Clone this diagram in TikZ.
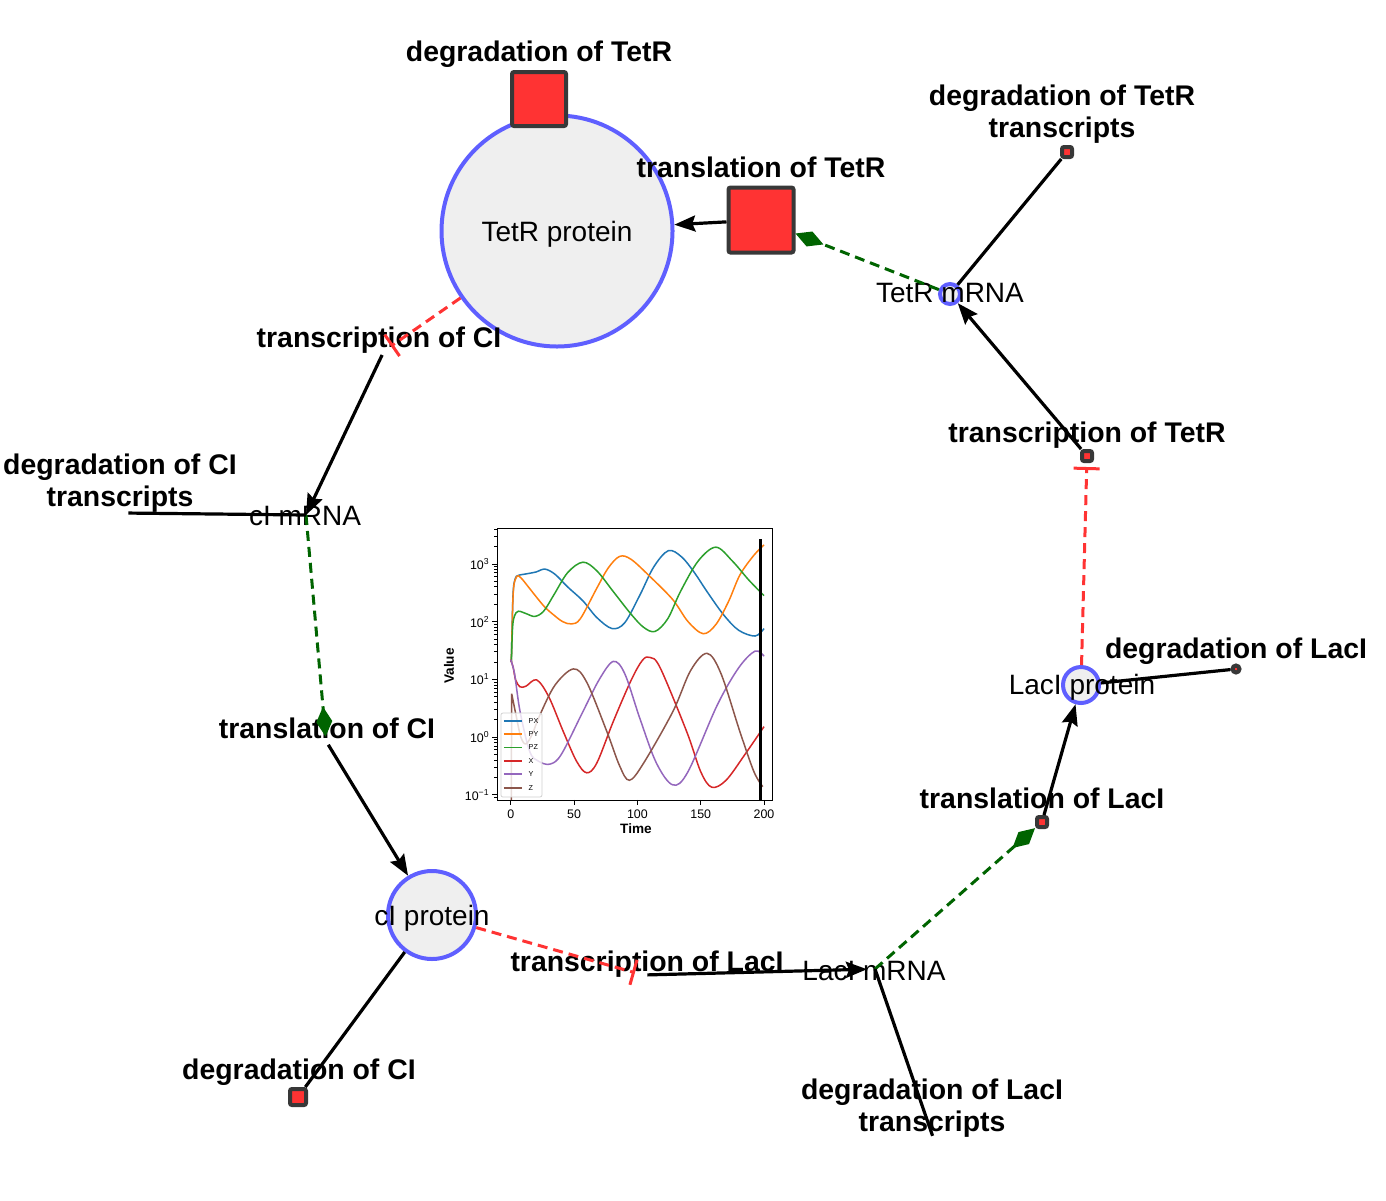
\documentclass[tikz,border=0pt]{standalone}
\usepackage{fontspec}
\setmainfont{Liberation Sans}
\usepackage{tikz}
\usetikzlibrary{arrows.meta}
\definecolor{spBlue}{HTML}{5F5FFF}
\definecolor{spFill}{HTML}{EFEFEF}
\definecolor{rxRed}{HTML}{FF3333}
\definecolor{rxGray}{HTML}{383838}
\definecolor{ccGreen}{HTML}{006400}
\definecolor{pltBlue}{HTML}{1F77B4}
\definecolor{pltOrange}{HTML}{FF7F0E}
\definecolor{pltGreen}{HTML}{2CA02C}
\definecolor{pltRed}{HTML}{D62728}
\definecolor{pltPurple}{HTML}{9467BD}
\definecolor{pltBrown}{HTML}{8C564B}

\begin{document}
\begin{tikzpicture}[x=0.5pt, y=-0.5pt,
  species/.style={circle, draw=spBlue, fill=spFill, line width=2pt, inner sep=0pt},
  rxbox/.style={rectangle, draw=rxGray, fill=rxRed, line width=2pt, rounded corners=1pt, inner sep=0pt},
  rxdot/.style={circle, draw=rxGray, fill=rxRed, line width=2pt, inner sep=0pt, minimum size=3.5pt},
  rxhide/.style={circle, inner sep=0pt, minimum size=4pt},
  rxlabel/.style={font=\fontsize{14.2}{16}\selectfont\bfseries, align=center, anchor=base, inner sep=0pt},
  splabel/.style={font=\fontsize{14}{16}\selectfont, anchor=base, inner sep=0pt},
  act/.style={-{Stealth[length=10.5pt, width=8pt, inset=1.5pt]}, line width=1.6pt},
  deg/.style={line width=1.6pt},
  cat/.style={-{Diamond[length=15pt, width=8pt]}, ccGreen, line width=1.5pt, dash pattern=on 5pt off 3pt},
  inh/.style={-{Bar[width=13pt, line width=1.5pt]}, rxRed, line width=1.5pt, dash pattern=on 5pt off 3pt, shorten >=2pt}]
\useasboundingbox (0,0) rectangle (1386,1200);

% species
\node[species, minimum size=115.5pt] (tetRp) at (557,231) {};
\node[species, minimum size=10pt] (tetRm) at (950,294) {};
\node[species, minimum size=18pt] (lacIp) at (1081,685) {};
\coordinate (lacIm) at (875,969);
\node[species, minimum size=44pt] (cIp) at (432,915) {};
\coordinate (cIm) at (306,515);

% reactions
\node[rxbox, minimum size=27pt] (degTetR) at (539,99) {};
\node[rxbox, minimum size=32.5pt] (trlTetR) at (761,220) {};
\node[rxbox, minimum size=5pt] (degTetRm) at (1067,152) {};
\node[rxbox, minimum size=5pt] (trsTetR) at (1087,456) {};
\node[rxdot] (degLacI) at (1236,669) {};
\node[rxbox, minimum size=5pt] (trlLacI) at (1042,822) {};
\node[rxhide] (degLacIm) at (934,1140) {};
\node[rxhide] (trsLacI) at (643,975) {};
\node[rxbox, minimum size=8pt] (degCI) at (298,1097) {};
\node[rxhide] (trlCI) at (326,741) {};
\node[rxhide] (degCIm) at (124,513) {};
\node[rxhide] (trsCI) at (384,351) {};

% names
\node[splabel] (tetRp-l) at (557,241) {TetR protein};
\node[splabel] (tetRm-l) at (950,302) {TetR mRNA};
\node[splabel] (lacIp-l) at (1082,694) {LacI protein};
\node[splabel] (lacIm-l) at (874,980) {LacI mRNA};
\node[splabel] (cIp-l) at (432,925) {cI protein};
\node[splabel] (cIm-l) at (305,525) {cI mRNA};

\node[rxlabel] (degTetR-l) at (539,61) {degradation of TetR};
\node[rxlabel] (trlTetR-l) at (761,177) {translation of TetR};
\node[rxlabel] (degTetRm-l) at (1062,137) {degradation of TetR\\transcripts};
\node[rxlabel] (trsTetR-l) at (1087,442) {transcription of TetR};
\node[rxlabel] (degLacI-l) at (1236,658) {degradation of LacI};
\node[rxlabel] (trlLacI-l) at (1042,808) {translation of LacI};
\node[rxlabel] (degLacIm-l) at (932,1131) {degradation of LacI\\transcripts};
\node[rxlabel] (trsLacI-l) at (647,971) {transcription of LacI};
\node[rxlabel] (degCI-l) at (299,1079) {degradation of CI};
\node[rxlabel] (trlCI-l) at (327,738) {translation of CI};
\node[rxlabel] (degCIm-l) at (120,506) {degradation of CI\\transcripts};
\node[rxlabel] (trsCI-l) at (379,347) {transcription of CI};

% edges
\draw[act] (trlTetR) -- (tetRp);
\draw[cat] (tetRm) -- (trlTetR);
\draw[deg] (tetRm) -- (degTetRm);
\draw[act] (trsTetR) -- (tetRm);
\draw[inh] (lacIp) -- (trsTetR);
\draw[deg] (lacIp) -- (degLacI);
\draw[act] (trlLacI) -- (lacIp);
\draw[cat] (lacIm) -- (trlLacI);
\draw[deg] (lacIm) -- (degLacIm);
\draw[act, shorten >=4pt] (trsLacI) -- (lacIm);
\draw[inh] (cIp) -- (trsLacI);
\draw[deg] (cIp) -- (degCI);
\draw[act] (trlCI) -- (cIp);
\draw[cat] (cIm) -- (trlCI);
\draw[deg] (cIm) -- (degCIm);
\draw[act] (trsCI) -- (cIm);
\draw[inh] (tetRp) -- (trsCI);

% time course inset
\begin{scope}[shift={(255.35pt,-368.5pt)}, x=0.6333pt, y=28.85pt,
  axis/.style={line width=0.4pt},
  curve/.style={line width=0.75pt},
  ticklbl/.style={font=\fontsize{6.2}{7}\selectfont},
  axlbl/.style={font=\fontsize{6.8}{8}\selectfont\bfseries},
  legtxt/.style={font=\fontsize{3.6}{4}\selectfont}]
\fill[white] (-10.8,-1.09) rectangle (207,3.62);
\begin{scope}
\clip (-10.8,-1.09) rectangle (207,3.62);
\draw[curve, pltBlue] plot[smooth, tension=0.55] coordinates {(0.5,1.3) (1.8,2.45) (3.5,2.74) (6,2.8) (13,2.83) (20,2.86) (27,2.91) (35,2.82) (45,2.6) (57,2.36) (68,2.07) (80,1.88) (90,1.98) (102,2.46) (113,2.95) (124.5,3.23) (135,3.12) (145,2.85) (155,2.52) (168,2.12) (180,1.85) (193,1.75) (200,1.88)};
\draw[curve, pltOrange] plot[smooth, tension=0.55] coordinates {(0.5,1.3) (2,2.5) (4.7,2.78) (8,2.76) (14,2.6) (20.5,2.42) (27,2.25) (33.7,2.12) (41,2.0) (48,1.96) (55,2.05) (68,2.58) (77,2.93) (86,3.13) (95,3.08) (110,2.78) (128,2.38) (140,2.0) (152,1.79) (162,1.95) (172,2.35) (181,2.81) (192,3.15) (200,3.33)};
\draw[curve, pltGreen] plot[smooth, tension=0.55] coordinates {(0.5,1.3) (1.5,1.9) (3,2.1) (6,2.18) (12,2.14) (19,2.09) (26,2.18) (34,2.46) (45,2.85) (57,3.03) (68,2.88) (81,2.52) (95,2.13) (105,1.9) (114,1.83) (124,2.05) (134,2.52) (148,3.05) (162,3.29) (175,3.05) (188,2.72) (200,2.45)};
\draw[curve, pltRed] plot[smooth, tension=0.55] coordinates {(0,1.34) (2,1.2) (4,0.98) (7.4,0.87) (12,0.88) (20.5,0.99) (30,0.7) (41.6,0.09) (52,-0.42) (60,-0.62) (68,-0.45) (81,0.27) (95,0.98) (104,1.33) (110,1.38) (118,1.2) (139,0.09) (150,-0.6) (158.7,-0.87) (170,-0.75) (185,-0.3) (200,0.18)};
\draw[curve, pltPurple] plot[smooth, tension=0.55] coordinates {(0,1.34) (3,1.1) (7.4,0.44) (15,-0.25) (22,-0.42) (31,-0.47) (40,-0.3) (57,0.44) (70,1.0) (81,1.31) (90,1.1) (102,0.32) (115,-0.45) (128,-0.83) (140,-0.6) (163,0.55) (180,1.2) (193,1.49) (200,1.40)};
\draw[curve, pltBrown] (0.4,-1.3) -- (0.8,0.75) plot[smooth, tension=0.55] coordinates {(0.8,0.75) (4,0.4) (8,0.0) (12,-0.12) (17,0.05) (23,0.38) (35,0.9) (49.5,1.18) (60,0.95) (76,0.09) (86,-0.5) (93.7,-0.75) (105,-0.45) (128,0.44) (142,1.15) (155,1.45) (166,1.1) (181,0.09) (192,-0.6) (199,-0.86)};
\end{scope}
\draw[axis] (-10.8,-1.09) rectangle (207,3.62);
\draw[line width=1.3pt] (197.3,-1.09) -- (197.3,3.43);
\foreach \t in {0,50,100,150,200}
  \draw[axis] (\t,-1.09) -- ++(0,-0.087) node[below, inner sep=2.5pt, ticklbl] (xt\t) {\t};
\foreach \e/\s in {-1/−1,0/0,1/1,2/2,3/3}
  \draw[axis] (-10.8,\e) -- ++(-3.95,0) node[left, inner sep=1pt, ticklbl] (yt\s) {10\textsuperscript{\s}};
\foreach \d in {-1,0,1,2}
  \foreach \k in {2,...,9}
    \draw[axis] (-10.8,{\d+log10(\k)}) -- ++(-2.4,0);
\foreach \m in {-1.0458,3.301,3.4771,3.6021}
  \draw[axis] (-10.8,\m) -- ++(-2.4,0);
\node[axlbl, rotate=90] (ylab) at (-48.7,1.23) {Value};
\node[axlbl] (xlab) at (98.9,-1.59) {Time};
% legend
\draw[draw=black!18, fill=white, fill opacity=0.8, rounded corners=1pt] (-7.7,0.416) rectangle (24.7,-1.04);
\foreach \n/\c/\l in {PX/pltBlue/0.277, PY/pltOrange/0.052, PZ/pltGreen/-0.182, X/pltRed/-0.416, Y/pltPurple/-0.641, Z/pltBrown/-0.884}
  \draw[curve, \c] (-5.3,\l) -- (8.9,\l) node[right, inner sep=3pt, legtxt, text=black] (leg\n) {\n};
\end{scope}
\end{tikzpicture}
\end{document}
